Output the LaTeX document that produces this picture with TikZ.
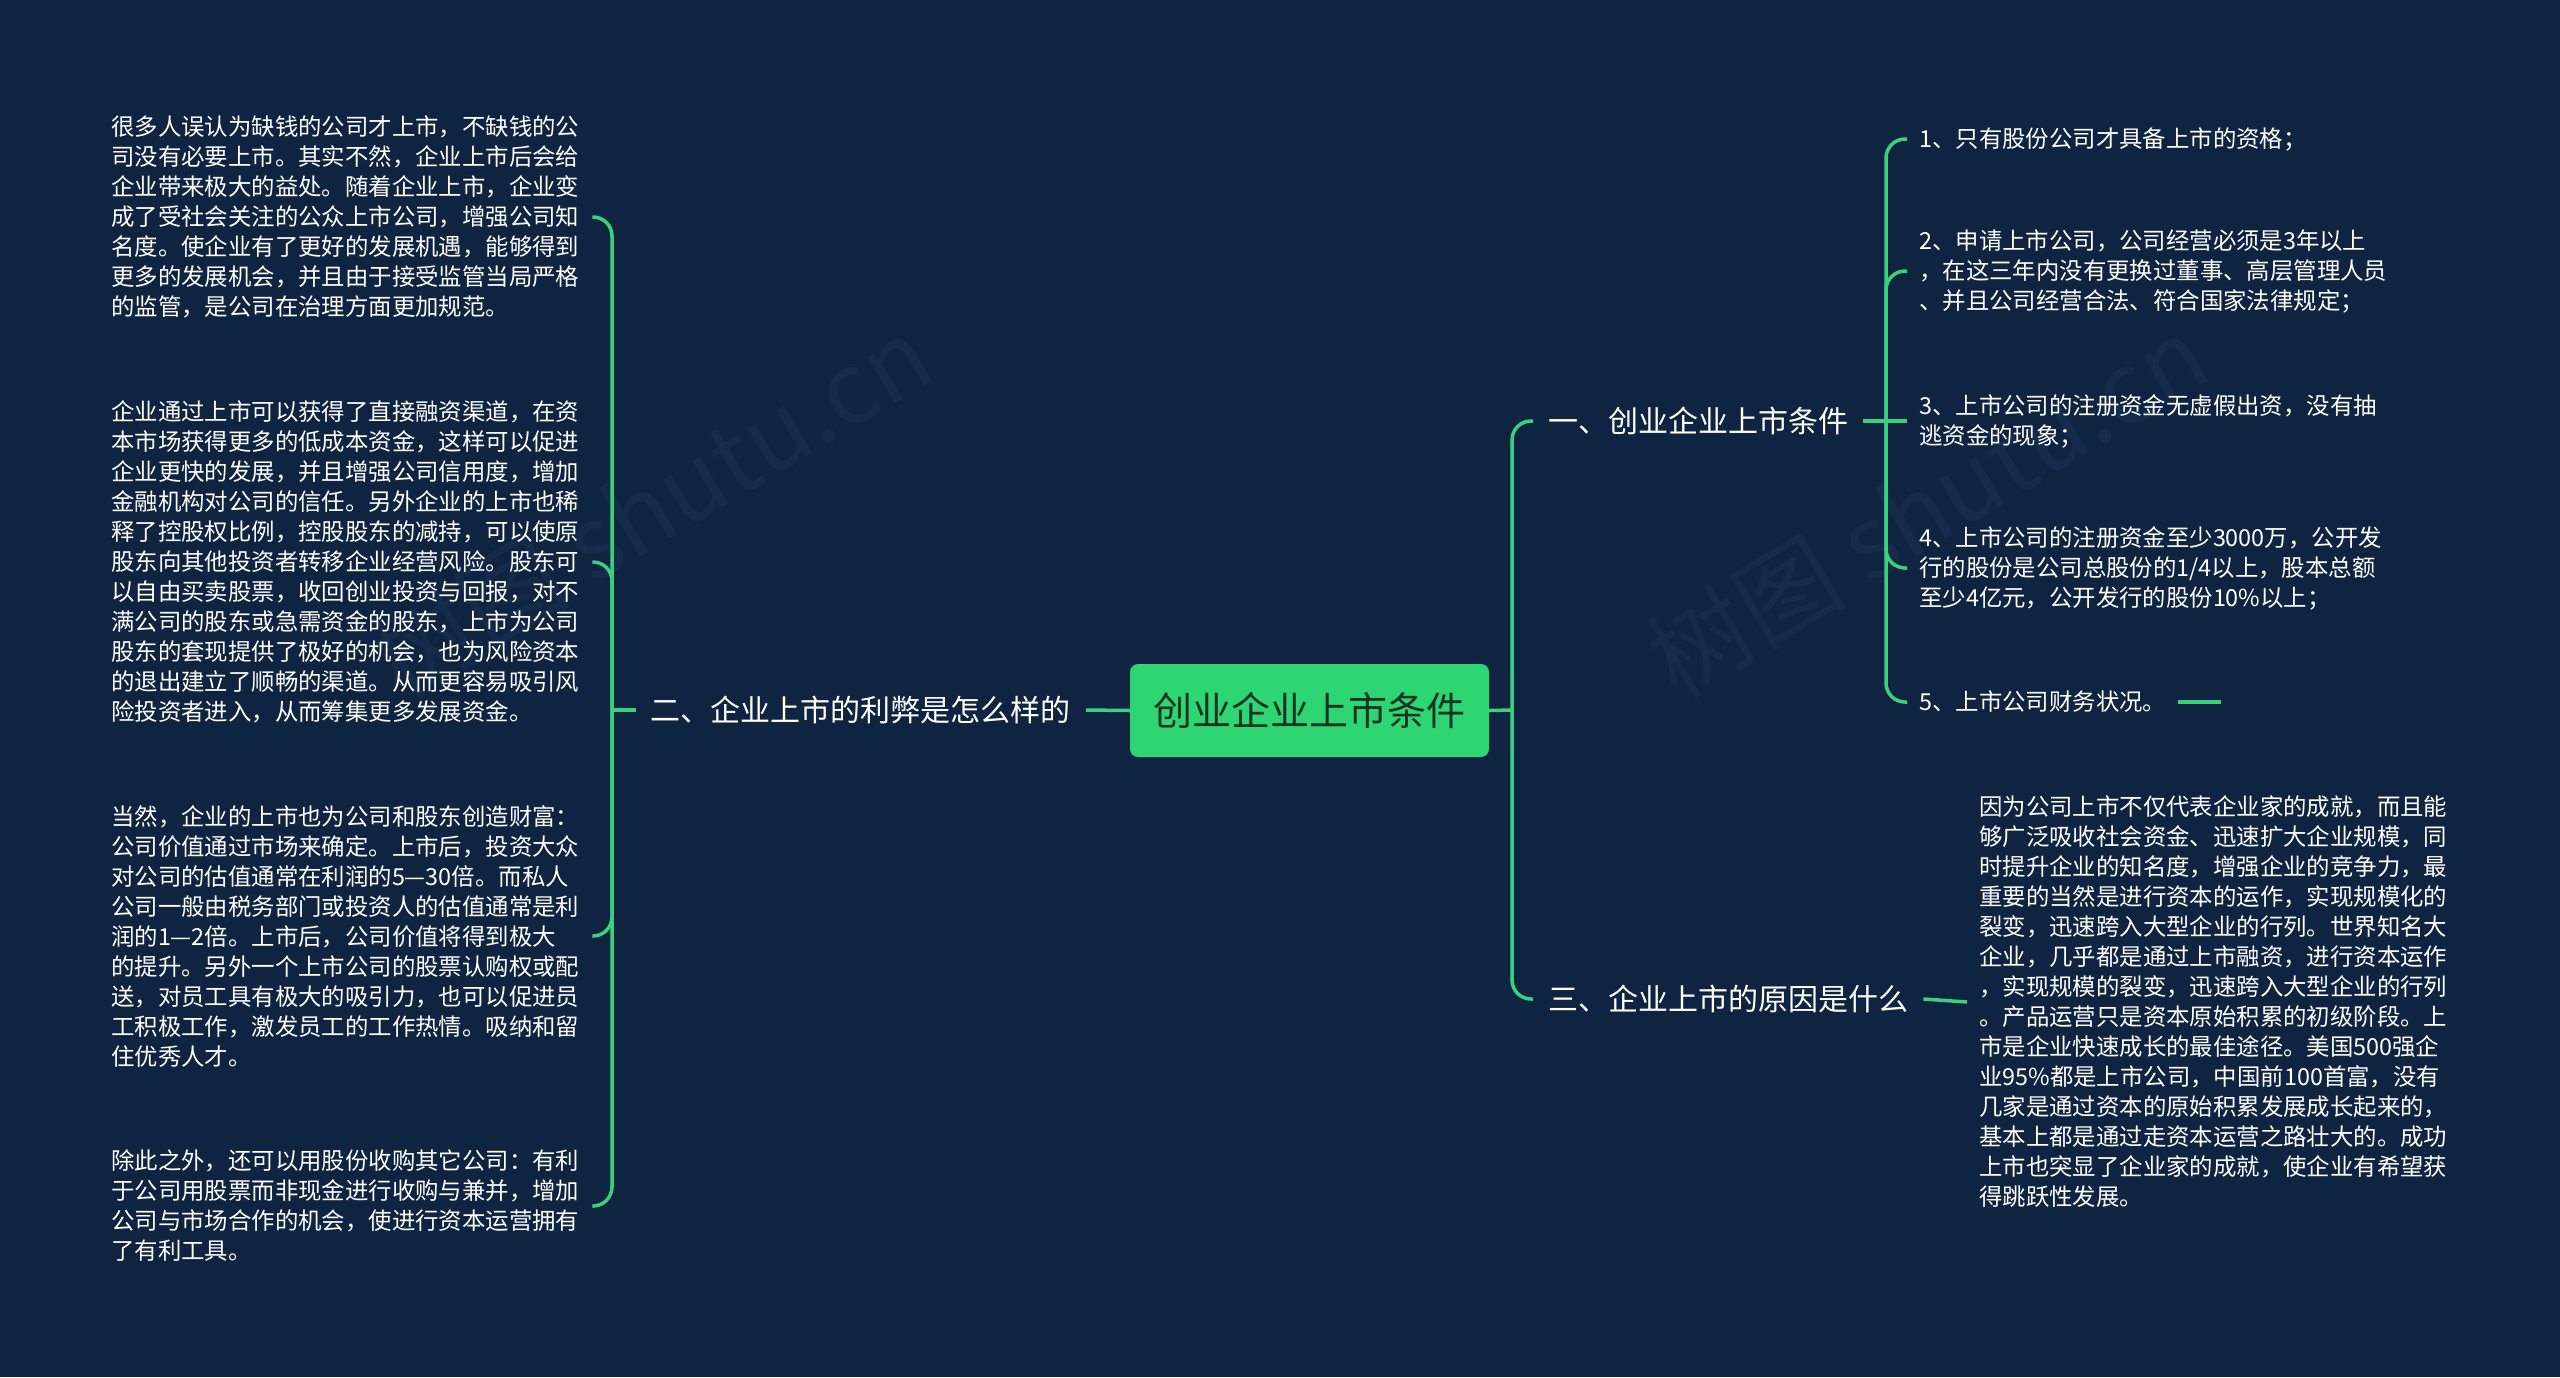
\documentclass[tikz,border=0pt]{standalone}
\usepackage{fontspec}
\setmainfont{Noto Sans CJK SC}
\definecolor{bg}{HTML}{0F2440}
\definecolor{ln}{HTML}{3BD07B}
\definecolor{ctr}{HTML}{2ED573}
\definecolor{ctrtext}{HTML}{173322}
\definecolor{wmc}{HTML}{152B4A}
\begin{document}
\begin{tikzpicture}[x=1pt,y=-1pt,
  conn/.style={draw=ln, line width=3.5pt},
  elbow/.style={conn, rounded corners=19pt},
  body/.style={font=\fontsize{23.4}{30}\selectfont, text=white, align=left, inner xsep=12pt, inner ysep=0pt},
  blk/.style={body, text width=470pt, inner xsep=11pt},
  lab/.style={font=\fontsize{30}{36}\selectfont, text=white, inner xsep=15pt, inner ysep=4pt},
  rootbox/.style={fill=ctr, text=ctrtext, rounded corners=8pt, minimum width=359pt, minimum height=93pt, font=\fontsize{39}{45}\selectfont, inner sep=0pt},
  wm/.style={text=wmc, font=\fontsize{100}{110}\selectfont, rotate=31}
  ]
\useasboundingbox (0,0) rectangle (2560,1377);
\fill[bg] (0,0) rectangle (2560,1377);
\node[wm] (w1) at (651,506) {树图 shutu.cn};
\node[wm] (w2) at (1927,506) {树图 shutu.cn};

% root
\node[rootbox] (root) at (1309.5,710.5) {创业企业上市条件};

% left side
\node[lab, anchor=east] (l2) at (1086,710) {二、企业上市的利弊是怎么样的};
\coordinate (jL) at (612,710);
\draw[conn] (root.west) -- (l2.east);
\draw[conn] (l2.west) -- (jL);

\node[blk, anchor=west] (b1) at (100,217) {很多人误认为缺钱的公司才上市，不缺钱的公\\司没有必要上市。其实不然，企业上市后会给\\企业带来极大的益处。随着企业上市，企业变\\成了受社会关注的公众上市公司，增强公司知\\名度。使企业有了更好的发展机遇，能够得到\\更多的发展机会，并且由于接受监管当局严格\\的监管，是公司在治理方面更加规范。};
\node[blk, anchor=west] (b2) at (100,562) {企业通过上市可以获得了直接融资渠道，在资\\本市场获得更多的低成本资金，这样可以促进\\企业更快的发展，并且增强公司信用度，增加\\金融机构对公司的信任。另外企业的上市也稀\\释了控股权比例，控股股东的减持，可以使原\\股东向其他投资者转移企业经营风险。股东可\\以自由买卖股票，收回创业投资与回报，对不\\满公司的股东或急需资金的股东，上市为公司\\股东的套现提供了极好的机会，也为风险资本\\的退出建立了顺畅的渠道。从而更容易吸引风\\险投资者进入，从而筹集更多发展资金。};
\node[blk, anchor=west] (b3) at (100,936) {当然，企业的上市也为公司和股东创造财富：\\公司价值通过市场来确定。上市后，投资大众\\对公司的估值通常在利润的5—30倍。而私人\\公司一般由税务部门或投资人的估值通常是利\\润的1—2倍。上市后，公司价值将得到极大\\的提升。另外一个上市公司的股票认购权或配\\送，对员工具有极大的吸引力，也可以促进员\\工积极工作，激发员工的工作热情。吸纳和留\\住优秀人才。};
\node[blk, anchor=west] (b4) at (100,1206) {除此之外，还可以用股份收购其它公司：有利\\于公司用股票而非现金进行收购与兼并，增加\\公司与市场合作的机会，使进行资本运营拥有\\了有利工具。};
\draw[elbow] (jL) |- (b1.east);
\draw[elbow] (jL) |- (b2.east);
\draw[elbow] (jL) |- (b3.east);
\draw[elbow] (jL) |- (b4.east);

% right side
\coordinate (jR) at (1512,710);
\draw[conn] (root.east) -- (jR);
\node[lab, anchor=west] (l1) at (1533,421) {一、创业企业上市条件};
\node[lab, anchor=west] (l3) at (1533,999) {三、企业上市的原因是什么};
\draw[elbow] (jR) |- (l1.west);
\draw[elbow] (jR) |- (l3.west);

\coordinate (jS) at (1886,421);
\draw[conn] (l1.east) -- (jS);
\node[body, anchor=west] (i1) at (1907,139) {1、只有股份公司才具备上市的资格；};
\node[body, anchor=west] (i2) at (1907,271) {2、申请上市公司，公司经营必须是3年以上\\，在这三年内没有更换过董事、高层管理人员\\、并且公司经营合法、符合国家法律规定；};
\node[body, anchor=west] (i3) at (1907,421) {3、上市公司的注册资金无虚假出资，没有抽\\逃资金的现象；};
\node[body, anchor=west] (i4) at (1907,568) {4、上市公司的注册资金至少3000万，公开发\\行的股份是公司总股份的1/4以上，股本总额\\至少4亿元，公开发行的股份10\%以上；};
\node[body, anchor=west] (i5) at (1907,702) {5、上市公司财务状况。};
\coordinate (e5) at (2221,702);
\draw[elbow] (jS) |- (i1.west);
\draw[elbow] (jS) |- (i2.west);
\draw[conn] (jS) -- (i3.west);
\draw[elbow] (jS) |- (i4.west);
\draw[elbow] (jS) |- (i5.west);
\draw[conn] (i5.east) -- (e5);

\node[body, anchor=west] (b5) at (1967,1002) {因为公司上市不仅代表企业家的成就，而且能\\够广泛吸收社会资金、迅速扩大企业规模，同\\时提升企业的知名度，增强企业的竞争力，最\\重要的当然是进行资本的运作，实现规模化的\\裂变，迅速跨入大型企业的行列。世界知名大\\企业，几乎都是通过上市融资，进行资本运作\\，实现规模的裂变，迅速跨入大型企业的行列\\。产品运营只是资本原始积累的初级阶段。上\\市是企业快速成长的最佳途径。美国500强企\\业95\%都是上市公司，中国前100首富，没有\\几家是通过资本的原始积累发展成长起来的，\\基本上都是通过走资本运营之路壮大的。成功\\上市也突显了企业家的成就，使企业有希望获\\得跳跃性发展。};
\draw[conn] (l3.east) -- (b5.west);
\end{tikzpicture}
\end{document}
